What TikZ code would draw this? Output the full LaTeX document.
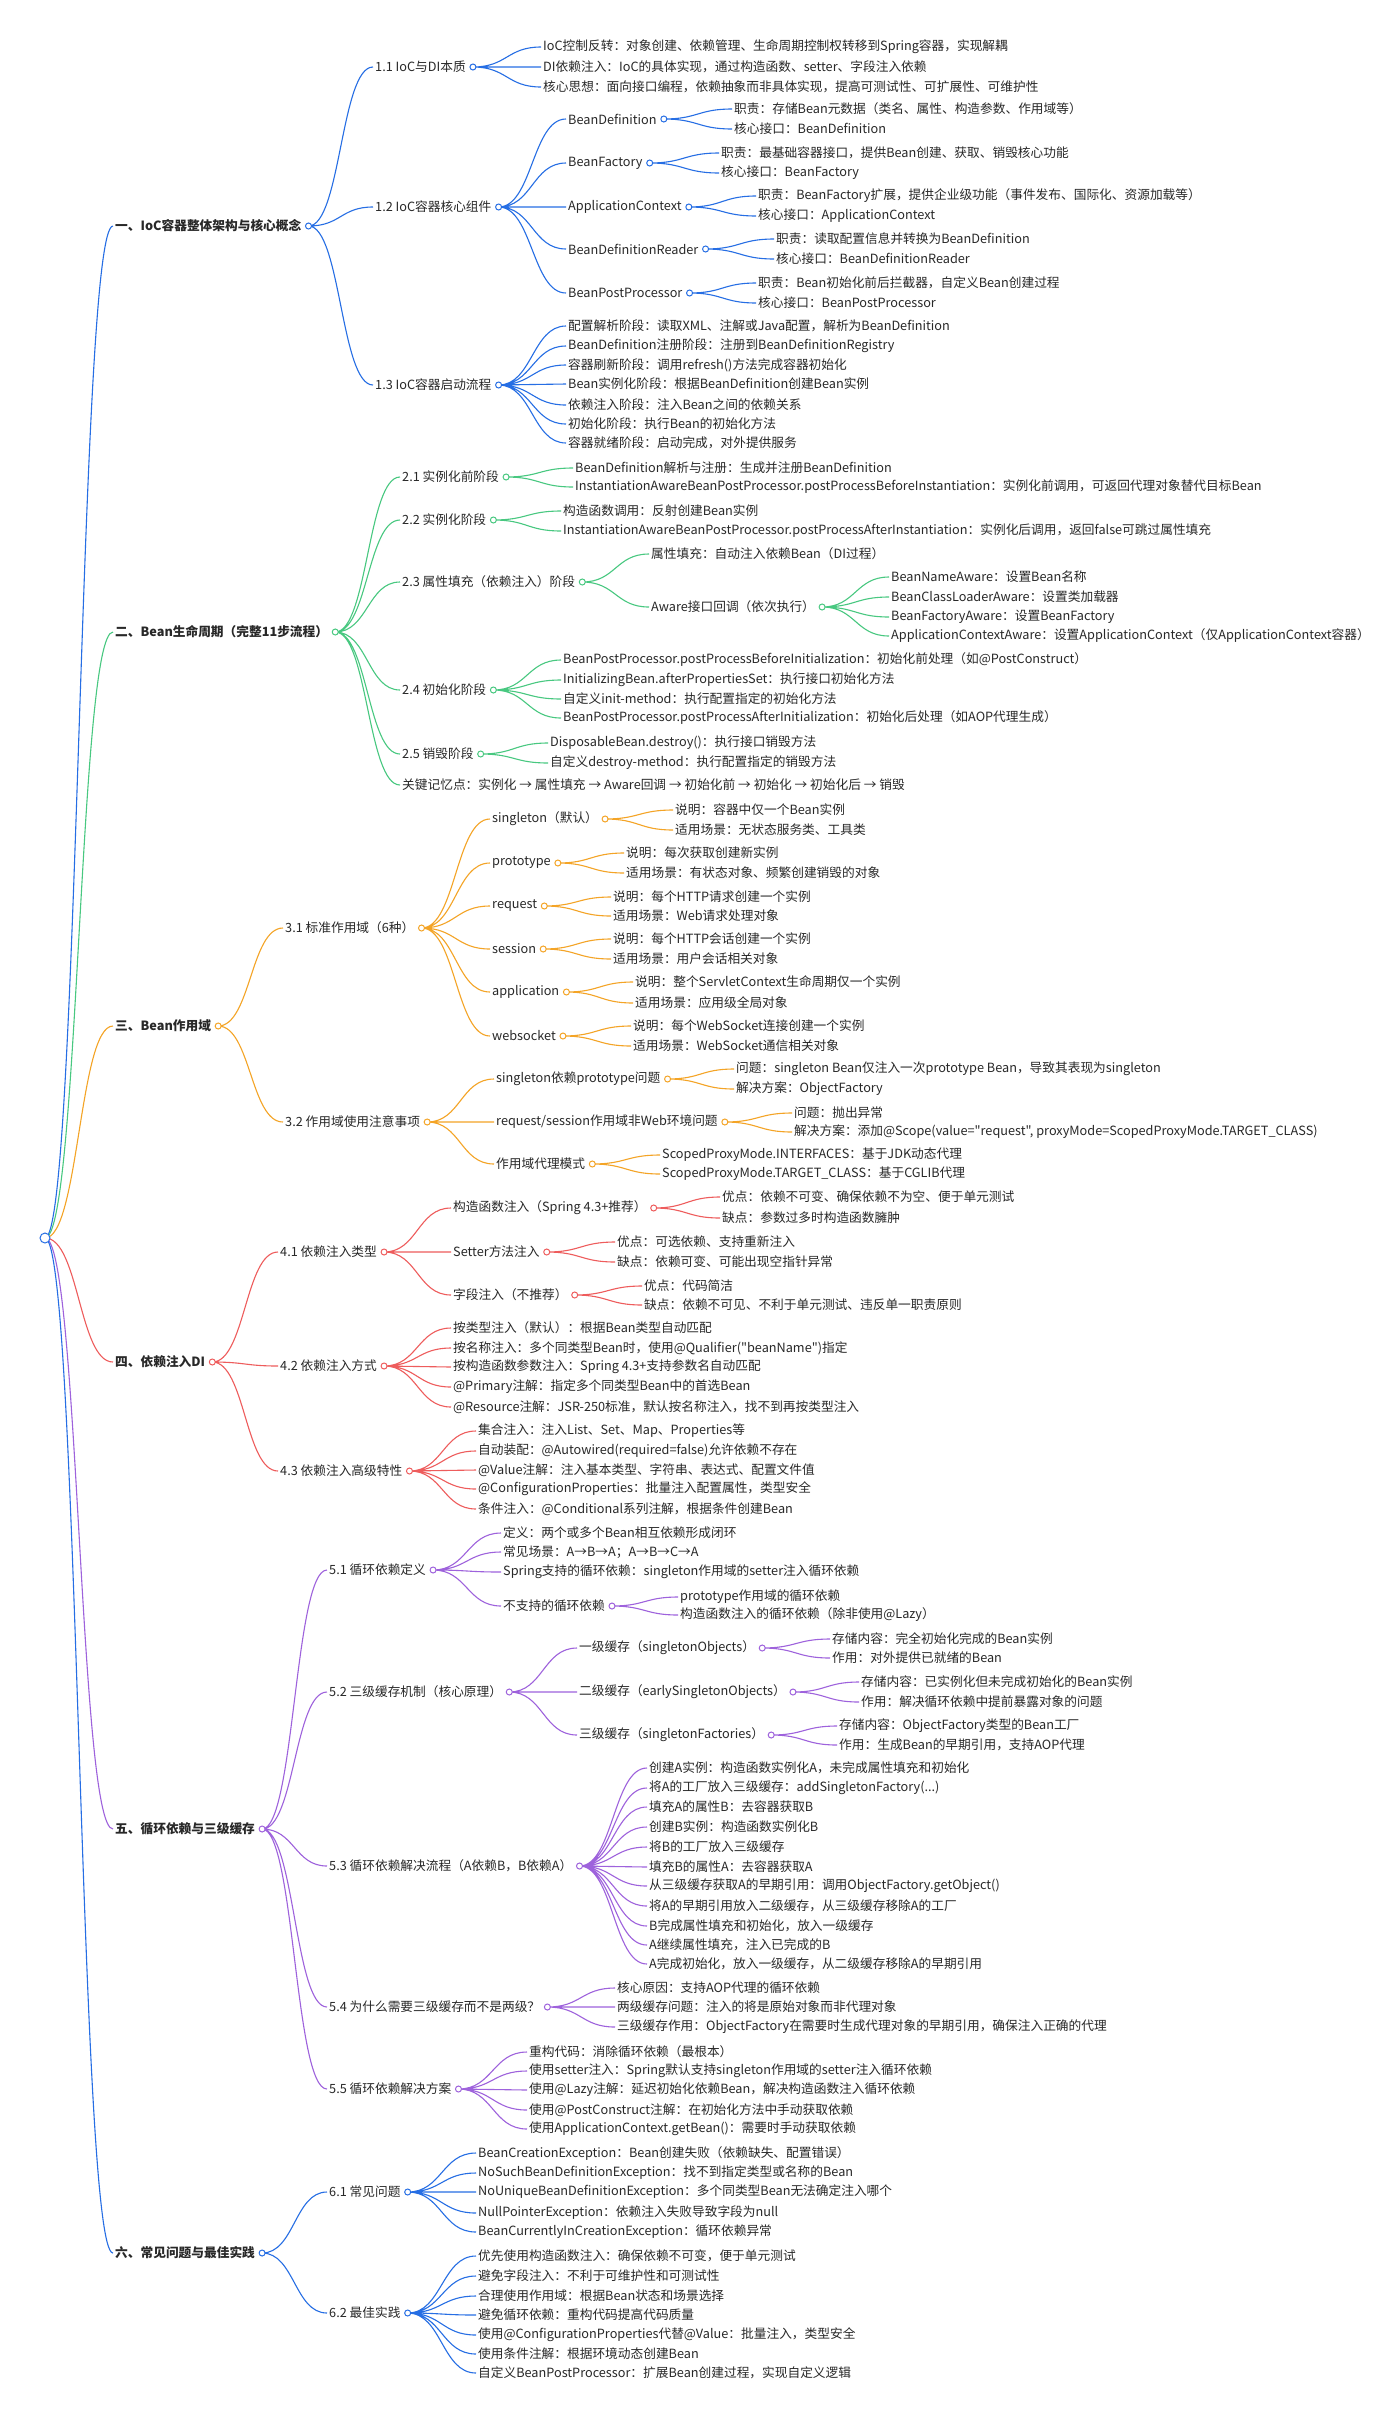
\documentclass[tikz,border=0pt]{standalone}
\usepackage{fontspec}
\newfontfamily\mmfont{Noto Sans CJK SC}
\usepackage{xcolor}
\usepackage{tikz}
\usetikzlibrary{calc}
\definecolor{mmblue}{RGB}{38, 110, 228}
\definecolor{mmgreen}{RGB}{72, 200, 128}
\definecolor{mmorange}{RGB}{244, 164, 38}
\definecolor{mmred}{RGB}{238, 92, 92}
\definecolor{mmpurple}{RGB}{158, 98, 220}
\definecolor{mmtext}{RGB}{40, 40, 40}

\begin{document}
\begin{tikzpicture}[x=1pt, y=-1pt,
  txt/.style={anchor=west, inner sep=2pt, text=mmtext, font=\mmfont\fontsize{12.7}{15}\selectfont},
  sec/.style={txt, font=\mmfont\fontsize{12.7}{15}\selectfont\bfseries},
  lk/.style={draw=#1, line width=1.1pt},
  knob/.style={draw=#1, fill=white, line width=1pt},
  mmcurve/.style={to path={let \p1=(\tikztostart), \p2=(\tikztotarget) in
      .. controls ({0.5*\x1+0.5*\x2},\y1) and ({0.5*\x1+0.5*\x2},\y2) .. (\tikztotarget)}}]

\fill[white] (0,0) rectangle (1400,2418);
\useasboundingbox (0,0) rectangle (1400,2418);

% Root
\coordinate (root) at (45,1238);

% ---------------- Section 1
\node[sec] (s1) at (113,226) {一、IoC容器整体架构与核心概念};
\coordinate (c1) at ([xshift=5pt]s1.east);

% 1.1
\node[txt] (s11) at (373,67) {1.1 IoC与DI本质};
\coordinate (c11) at ([xshift=5pt]s11.east);
\node[txt] (s11a) at (541,47) {IoC控制反转：对象创建、依赖管理、生命周期控制权转移到Spring容器，实现解耦};
\node[txt] (s11b) at (541,67) {DI依赖注入：IoC的具体实现，通过构造函数、setter、字段注入依赖};
\node[txt] (s11c) at (541,87) {核心思想：面向接口编程，依赖抽象而非具体实现，提高可测试性、可扩展性、可维护性};
\draw[lk=mmblue] (c11) to[mmcurve] (s11a.west) (c11) to[mmcurve] (s11b.west) (c11) to[mmcurve] (s11c.west);
\draw[knob=mmblue] (c11) circle[radius=3pt];

% 1.2
\node[txt] (s12) at (373,207) {1.2 IoC容器核心组件};
\coordinate (c12) at ([xshift=5pt]s12.east);
\node[txt] (s12a) at (566,119) {BeanDefinition};
\node[txt] (s12b) at (566,163) {BeanFactory};
\node[txt] (s12c) at (566,207) {ApplicationContext};
\node[txt] (s12d) at (566,249) {BeanDefinitionReader};
\node[txt] (s12e) at (566,293) {BeanPostProcessor};
\draw[lk=mmblue] (c12) to[mmcurve] (s12a.west) (c12) to[mmcurve] (s12b.west) (c12) to[mmcurve] (s12c.west)
  (c12) to[mmcurve] (s12d.west) (c12) to[mmcurve] (s12e.west);
\draw[knob=mmblue] (c12) circle[radius=3pt];

\coordinate (c12a) at ([xshift=5pt]s12a.east);
\node[txt] (s12a1) at (732,109) {职责：存储Bean元数据（类名、属性、构造参数、作用域等）};
\node[txt] (s12a2) at (732,129) {核心接口：BeanDefinition};
\draw[lk=mmblue] (c12a) to[mmcurve] (s12a1.west) (c12a) to[mmcurve] (s12a2.west);
\draw[knob=mmblue] (c12a) circle[radius=3pt];

\coordinate (c12b) at ([xshift=5pt]s12b.east);
\node[txt] (s12b1) at (719,153) {职责：最基础容器接口，提供Bean创建、获取、销毁核心功能};
\node[txt] (s12b2) at (719,173) {核心接口：BeanFactory};
\draw[lk=mmblue] (c12b) to[mmcurve] (s12b1.west) (c12b) to[mmcurve] (s12b2.west);
\draw[knob=mmblue] (c12b) circle[radius=3pt];

\coordinate (c12c) at ([xshift=5pt]s12c.east);
\node[txt] (s12c1) at (756,196) {职责：BeanFactory扩展，提供企业级功能（事件发布、国际化、资源加载等）};
\node[txt] (s12c2) at (756,216) {核心接口：ApplicationContext};
\draw[lk=mmblue] (c12c) to[mmcurve] (s12c1.west) (c12c) to[mmcurve] (s12c2.west);
\draw[knob=mmblue] (c12c) circle[radius=3pt];

\coordinate (c12d) at ([xshift=5pt]s12d.east);
\node[txt] (s12d1) at (774,239) {职责：读取配置信息并转换为BeanDefinition};
\node[txt] (s12d2) at (774,259) {核心接口：BeanDefinitionReader};
\draw[lk=mmblue] (c12d) to[mmcurve] (s12d1.west) (c12d) to[mmcurve] (s12d2.west);
\draw[knob=mmblue] (c12d) circle[radius=3pt];

\coordinate (c12e) at ([xshift=5pt]s12e.east);
\node[txt] (s12e1) at (756,283) {职责：Bean初始化前后拦截器，自定义Bean创建过程};
\node[txt] (s12e2) at (756,303) {核心接口：BeanPostProcessor};
\draw[lk=mmblue] (c12e) to[mmcurve] (s12e1.west) (c12e) to[mmcurve] (s12e2.west);
\draw[knob=mmblue] (c12e) circle[radius=3pt];

% 1.3
\node[txt] (s13) at (373,385) {1.3 IoC容器启动流程};
\coordinate (c13) at ([xshift=5pt]s13.east);
\node[txt] (s13a) at (566,326) {配置解析阶段：读取XML、注解或Java配置，解析为BeanDefinition};
\node[txt] (s13b) at (566,346) {BeanDefinition注册阶段：注册到BeanDefinitionRegistry};
\node[txt] (s13c) at (566,365) {容器刷新阶段：调用refresh()方法完成容器初始化};
\node[txt] (s13d) at (566,384) {Bean实例化阶段：根据BeanDefinition创建Bean实例};
\node[txt] (s13e) at (566,405) {依赖注入阶段：注入Bean之间的依赖关系};
\node[txt] (s13f) at (566,424) {初始化阶段：执行Bean的初始化方法};
\node[txt] (s13g) at (566,443) {容器就绪阶段：启动完成，对外提供服务};
\draw[lk=mmblue] (c13) to[mmcurve] (s13a.west) (c13) to[mmcurve] (s13b.west) (c13) to[mmcurve] (s13c.west)
  (c13) to[mmcurve] (s13d.west) (c13) to[mmcurve] (s13e.west) (c13) to[mmcurve] (s13f.west)
  (c13) to[mmcurve] (s13g.west);
\draw[knob=mmblue] (c13) circle[radius=3pt];

\draw[lk=mmblue] (c1) to[mmcurve] (s11.west) (c1) to[mmcurve] (s12.west) (c1) to[mmcurve] (s13.west);
\draw[knob=mmblue] (c1) circle[radius=3pt];

% ---------------- Section 2
\node[sec] (s2) at (113,632) {二、Bean生命周期（完整11步流程）};
\coordinate (c2) at ([xshift=5pt]s2.east);

% 2.1
\node[txt] (s21) at (400,477) {2.1 实例化前阶段};
\coordinate (c21) at ([xshift=5pt]s21.east);
\node[txt] (s21a) at (573,468) {BeanDefinition解析与注册：生成并注册BeanDefinition};
\node[txt] (s21b) at (573,487) {InstantiationAwareBeanPostProcessor.postProcessBeforeInstantiation：实例化前调用，可返回代理对象替代目标Bean};
\draw[lk=mmgreen] (c21) to[mmcurve] (s21a.west) (c21) to[mmcurve] (s21b.west);
\draw[knob=mmgreen] (c21) circle[radius=3pt];

% 2.2
\node[txt] (s22) at (400,520) {2.2 实例化阶段};
\coordinate (c22) at ([xshift=5pt]s22.east);
\node[txt] (s22a) at (561,511) {构造函数调用：反射创建Bean实例};
\node[txt] (s22b) at (561,531) {InstantiationAwareBeanPostProcessor.postProcessAfterInstantiation：实例化后调用，返回false可跳过属性填充};
\draw[lk=mmgreen] (c22) to[mmcurve] (s22a.west) (c22) to[mmcurve] (s22b.west);
\draw[knob=mmgreen] (c22) circle[radius=3pt];

% 2.3
\node[txt] (s23) at (400,582) {2.3 属性填充（依赖注入）阶段};
\coordinate (c23) at ([xshift=5pt]s23.east);
\node[txt] (s23a) at (649,554) {属性填充：自动注入依赖Bean（DI过程）};
\node[txt] (s23b) at (649,607) {Aware接口回调（依次执行）};
\draw[lk=mmgreen] (c23) to[mmcurve] (s23a.west) (c23) to[mmcurve] (s23b.west);
\draw[knob=mmgreen] (c23) circle[radius=3pt];

\coordinate (c23b) at ([xshift=5pt]s23b.east);
\node[txt] (s23b1) at (889,577) {BeanNameAware：设置Bean名称};
\node[txt] (s23b2) at (889,597) {BeanClassLoaderAware：设置类加载器};
\node[txt] (s23b3) at (889,617) {BeanFactoryAware：设置BeanFactory};
\node[txt] (s23b4) at (889,636) {ApplicationContextAware：设置ApplicationContext（仅ApplicationContext容器）};
\draw[lk=mmgreen] (c23b) to[mmcurve] (s23b1.west) (c23b) to[mmcurve] (s23b2.west)
  (c23b) to[mmcurve] (s23b3.west) (c23b) to[mmcurve] (s23b4.west);
\draw[knob=mmgreen] (c23b) circle[radius=3pt];

% 2.4
\node[txt] (s24) at (400,690) {2.4 初始化阶段};
\coordinate (c24) at ([xshift=5pt]s24.east);
\node[txt] (s24a) at (561,660) {BeanPostProcessor.postProcessBeforeInitialization：初始化前处理（如@PostConstruct）};
\node[txt] (s24b) at (561,680) {InitializingBean.afterPropertiesSet：执行接口初始化方法};
\node[txt] (s24c) at (561,699) {自定义init-method：执行配置指定的初始化方法};
\node[txt] (s24d) at (561,718) {BeanPostProcessor.postProcessAfterInitialization：初始化后处理（如AOP代理生成）};
\draw[lk=mmgreen] (c24) to[mmcurve] (s24a.west) (c24) to[mmcurve] (s24b.west)
  (c24) to[mmcurve] (s24c.west) (c24) to[mmcurve] (s24d.west);
\draw[knob=mmgreen] (c24) circle[radius=3pt];

% 2.5
\node[txt] (s25) at (400,754) {2.5 销毁阶段};
\coordinate (c25) at ([xshift=5pt]s25.east);
\node[txt] (s25a) at (548,743) {DisposableBean.destroy()：执行接口销毁方法};
\node[txt] (s25b) at (548,763) {自定义destroy-method：执行配置指定的销毁方法};
\draw[lk=mmgreen] (c25) to[mmcurve] (s25a.west) (c25) to[mmcurve] (s25b.west);
\draw[knob=mmgreen] (c25) circle[radius=3pt];

\node[txt] (s26) at (400,785) {关键记忆点：实例化 → 属性填充 → Aware回调 → 初始化前 → 初始化 → 初始化后 → 销毁};

\draw[lk=mmgreen] (c2) to[mmcurve] (s21.west) (c2) to[mmcurve] (s22.west) (c2) to[mmcurve] (s23.west)
  (c2) to[mmcurve] (s24.west) (c2) to[mmcurve] (s25.west) (c2) to[mmcurve] (s26.west);
\draw[knob=mmgreen] (c2) circle[radius=3pt];

% ---------------- Section 3
\node[sec] (s3) at (113,1026) {三、Bean作用域};
\coordinate (c3) at ([xshift=5pt]s3.east);

% 3.1
\node[txt] (s31) at (283,928) {3.1 标准作用域（6种）};
\coordinate (c31) at ([xshift=5pt]s31.east);
\node[txt] (s31a) at (490,819) {singleton（默认）};
\node[txt] (s31b) at (490,863) {prototype};
\node[txt] (s31c) at (490,906) {request};
\node[txt] (s31d) at (490,949) {session};
\node[txt] (s31e) at (490,992) {application};
\node[txt] (s31f) at (490,1036) {websocket};
\draw[lk=mmorange] (c31) to[mmcurve] (s31a.west) (c31) to[mmcurve] (s31b.west) (c31) to[mmcurve] (s31c.west)
  (c31) to[mmcurve] (s31d.west) (c31) to[mmcurve] (s31e.west) (c31) to[mmcurve] (s31f.west);
\draw[knob=mmorange] (c31) circle[radius=3pt];

\coordinate (c31a) at ([xshift=5pt]s31a.east);
\node[txt] (s31a1) at (673,810) {说明：容器中仅一个Bean实例};
\node[txt] (s31a2) at (673,830) {适用场景：无状态服务类、工具类};
\draw[lk=mmorange] (c31a) to[mmcurve] (s31a1.west) (c31a) to[mmcurve] (s31a2.west);
\draw[knob=mmorange] (c31a) circle[radius=3pt];

\coordinate (c31b) at ([xshift=5pt]s31b.east);
\node[txt] (s31b1) at (624,853) {说明：每次获取创建新实例};
\node[txt] (s31b2) at (624,873) {适用场景：有状态对象、频繁创建销毁的对象};
\draw[lk=mmorange] (c31b) to[mmcurve] (s31b1.west) (c31b) to[mmcurve] (s31b2.west);
\draw[knob=mmorange] (c31b) circle[radius=3pt];

\coordinate (c31c) at ([xshift=5pt]s31c.east);
\node[txt] (s31c1) at (611,897) {说明：每个HTTP请求创建一个实例};
\node[txt] (s31c2) at (611,916) {适用场景：Web请求处理对象};
\draw[lk=mmorange] (c31c) to[mmcurve] (s31c1.west) (c31c) to[mmcurve] (s31c2.west);
\draw[knob=mmorange] (c31c) circle[radius=3pt];

\coordinate (c31d) at ([xshift=5pt]s31d.east);
\node[txt] (s31d1) at (611,939) {说明：每个HTTP会话创建一个实例};
\node[txt] (s31d2) at (611,959) {适用场景：用户会话相关对象};
\draw[lk=mmorange] (c31d) to[mmcurve] (s31d1.west) (c31d) to[mmcurve] (s31d2.west);
\draw[knob=mmorange] (c31d) circle[radius=3pt];

\coordinate (c31e) at ([xshift=5pt]s31e.east);
\node[txt] (s31e1) at (633,982) {说明：整个ServletContext生命周期仅一个实例};
\node[txt] (s31e2) at (633,1003) {适用场景：应用级全局对象};
\draw[lk=mmorange] (c31e) to[mmcurve] (s31e1.west) (c31e) to[mmcurve] (s31e2.west);
\draw[knob=mmorange] (c31e) circle[radius=3pt];

\coordinate (c31f) at ([xshift=5pt]s31f.east);
\node[txt] (s31f1) at (631,1026) {说明：每个WebSocket连接创建一个实例};
\node[txt] (s31f2) at (631,1046) {适用场景：WebSocket通信相关对象};
\draw[lk=mmorange] (c31f) to[mmcurve] (s31f1.west) (c31f) to[mmcurve] (s31f2.west);
\draw[knob=mmorange] (c31f) circle[radius=3pt];

% 3.2
\node[txt] (s32) at (283,1122) {3.2 作用域使用注意事项};
\coordinate (c32) at ([xshift=5pt]s32.east);
\node[txt] (s32a) at (494,1079) {singleton依赖prototype问题};
\node[txt] (s32b) at (494,1122) {request/session作用域非Web环境问题};
\node[txt] (s32c) at (494,1164) {作用域代理模式};
\draw[lk=mmorange] (c32) to[mmcurve] (s32a.west) (c32) to[mmcurve] (s32b.west) (c32) to[mmcurve] (s32c.west);
\draw[knob=mmorange] (c32) circle[radius=3pt];

\coordinate (c32a) at ([xshift=5pt]s32a.east);
\node[txt] (s32a1) at (734,1069) {问题：singleton Bean仅注入一次prototype Bean，导致其表现为singleton};
\node[txt] (s32a2) at (734,1089) {解决方案：ObjectFactory};
\draw[lk=mmorange] (c32a) to[mmcurve] (s32a1.west) (c32a) to[mmcurve] (s32a2.west);
\draw[knob=mmorange] (c32a) circle[radius=3pt];

\coordinate (c32b) at ([xshift=5pt]s32b.east);
\node[txt] (s32b1) at (792,1113) {问题：抛出异常};
\node[txt] (s32b2) at (792,1132) {解决方案：添加@Scope(value="request", proxyMode=ScopedProxyMode.TARGET\_CLASS)};
\draw[lk=mmorange] (c32b) to[mmcurve] (s32b1.west) (c32b) to[mmcurve] (s32b2.west);
\draw[knob=mmorange] (c32b) circle[radius=3pt];

\coordinate (c32c) at ([xshift=5pt]s32c.east);
\node[txt] (s32c1) at (660,1155) {ScopedProxyMode.INTERFACES：基于JDK动态代理};
\node[txt] (s32c2) at (660,1174) {ScopedProxyMode.TARGET\_CLASS：基于CGLIB代理};
\draw[lk=mmorange] (c32c) to[mmcurve] (s32c1.west) (c32c) to[mmcurve] (s32c2.west);
\draw[knob=mmorange] (c32c) circle[radius=3pt];

\draw[lk=mmorange] (c3) to[mmcurve] (s31.west) (c3) to[mmcurve] (s32.west);
\draw[knob=mmorange] (c3) circle[radius=3pt];

% ---------------- Section 4
\node[sec] (s4) at (113,1362) {四、依赖注入DI};
\coordinate (c4) at ([xshift=5pt]s4.east);

% 4.1
\node[txt] (s41) at (278,1252) {4.1 依赖注入类型};
\coordinate (c41) at ([xshift=5pt]s41.east);
\node[txt] (s41a) at (451,1208) {构造函数注入（Spring 4.3+推荐）};
\node[txt] (s41b) at (451,1252) {Setter方法注入};
\node[txt] (s41c) at (451,1295) {字段注入（不推荐）};
\draw[lk=mmred] (c41) to[mmcurve] (s41a.west) (c41) to[mmcurve] (s41b.west) (c41) to[mmcurve] (s41c.west);
\draw[knob=mmred] (c41) circle[radius=3pt];

\coordinate (c41a) at ([xshift=5pt]s41a.east);
\node[txt] (s41a1) at (720,1197) {优点：依赖不可变、确保依赖不为空、便于单元测试};
\node[txt] (s41a2) at (720,1218) {缺点：参数过多时构造函数臃肿};
\draw[lk=mmred] (c41a) to[mmcurve] (s41a1.west) (c41a) to[mmcurve] (s41a2.west);
\draw[knob=mmred] (c41a) circle[radius=3pt];

\coordinate (c41b) at ([xshift=5pt]s41b.east);
\node[txt] (s41b1) at (615,1242) {优点：可选依赖、支持重新注入};
\node[txt] (s41b2) at (615,1262) {缺点：依赖可变、可能出现空指针异常};
\draw[lk=mmred] (c41b) to[mmcurve] (s41b1.west) (c41b) to[mmcurve] (s41b2.west);
\draw[knob=mmred] (c41b) circle[radius=3pt];

\coordinate (c41c) at ([xshift=5pt]s41c.east);
\node[txt] (s41c1) at (642,1286) {优点：代码简洁};
\node[txt] (s41c2) at (642,1305) {缺点：依赖不可见、不利于单元测试、违反单一职责原则};
\draw[lk=mmred] (c41c) to[mmcurve] (s41c1.west) (c41c) to[mmcurve] (s41c2.west);
\draw[knob=mmred] (c41c) circle[radius=3pt];

% 4.2
\node[txt] (s42) at (278,1366) {4.2 依赖注入方式};
\coordinate (c42) at ([xshift=5pt]s42.east);
\node[txt] (s42a) at (451,1328) {按类型注入（默认）：根据Bean类型自动匹配};
\node[txt] (s42b) at (451,1348) {按名称注入：多个同类型Bean时，使用@Qualifier("beanName")指定};
\node[txt] (s42c) at (451,1367) {按构造函数参数注入：Spring 4.3+支持参数名自动匹配};
\node[txt] (s42d) at (451,1387) {@Primary注解：指定多个同类型Bean中的首选Bean};
\node[txt] (s42e) at (451,1407) {@Resource注解：JSR-250标准，默认按名称注入，找不到再按类型注入};
\draw[lk=mmred] (c42) to[mmcurve] (s42a.west) (c42) to[mmcurve] (s42b.west) (c42) to[mmcurve] (s42c.west)
  (c42) to[mmcurve] (s42d.west) (c42) to[mmcurve] (s42e.west);
\draw[knob=mmred] (c42) circle[radius=3pt];

% 4.3
\node[txt] (s43) at (278,1471) {4.3 依赖注入高级特性};
\coordinate (c43) at ([xshift=5pt]s43.east);
\node[txt] (s43a) at (476,1431) {集合注入：注入List、Set、Map、Properties等};
\node[txt] (s43b) at (476,1451) {自动装配：@Autowired(required=false)允许依赖不存在};
\node[txt] (s43c) at (476,1470) {@Value注解：注入基本类型、字符串、表达式、配置文件值};
\node[txt] (s43d) at (476,1489) {@ConfigurationProperties：批量注入配置属性，类型安全};
\node[txt] (s43e) at (476,1509) {条件注入：@Conditional系列注解，根据条件创建Bean};
\draw[lk=mmred] (c43) to[mmcurve] (s43a.west) (c43) to[mmcurve] (s43b.west) (c43) to[mmcurve] (s43c.west)
  (c43) to[mmcurve] (s43d.west) (c43) to[mmcurve] (s43e.west);
\draw[knob=mmred] (c43) circle[radius=3pt];

\draw[lk=mmred] (c4) to[mmcurve] (s41.west) (c4) to[mmcurve] (s42.west) (c4) to[mmcurve] (s43.west);
\draw[knob=mmred] (c4) circle[radius=3pt];

% ---------------- Section 5
\node[sec] (s5) at (113,1829) {五、循环依赖与三级缓存};
\coordinate (c5) at ([xshift=5pt]s5.east);

% 5.1
\node[txt] (s51) at (327,1570) {5.1 循环依赖定义};
\coordinate (c51) at ([xshift=5pt]s51.east);
\node[txt] (s51a) at (501,1533) {定义：两个或多个Bean相互依赖形成闭环};
\node[txt] (s51b) at (501,1552) {常见场景：A→B→A；A→B→C→A};
\node[txt] (s51c) at (501,1572) {Spring支持的循环依赖：singleton作用域的setter注入循环依赖};
\node[txt] (s51d) at (501,1606) {不支持的循环依赖};
\draw[lk=mmpurple] (c51) to[mmcurve] (s51a.west) (c51) to[mmcurve] (s51b.west)
  (c51) to[mmcurve] (s51c.west) (c51) to[mmcurve] (s51d.west);
\draw[knob=mmpurple] (c51) circle[radius=3pt];

\coordinate (c51d) at ([xshift=5pt]s51d.east);
\node[txt] (s51d1) at (678,1597) {prototype作用域的循环依赖};
\node[txt] (s51d2) at (678,1615) {构造函数注入的循环依赖（除非使用@Lazy）};
\draw[lk=mmpurple] (c51d) to[mmcurve] (s51d1.west) (c51d) to[mmcurve] (s51d2.west);
\draw[knob=mmpurple] (c51d) circle[radius=3pt];

% 5.2
\node[txt] (s52) at (327,1692) {5.2 三级缓存机制（核心原理）};
\coordinate (c52) at ([xshift=5pt]s52.east);
\node[txt] (s52a) at (577,1648) {一级缓存（singletonObjects）};
\node[txt] (s52b) at (577,1692) {二级缓存（earlySingletonObjects）};
\node[txt] (s52c) at (577,1735) {三级缓存（singletonFactories）};
\draw[lk=mmpurple] (c52) to[mmcurve] (s52a.west) (c52) to[mmcurve] (s52b.west) (c52) to[mmcurve] (s52c.west);
\draw[knob=mmpurple] (c52) circle[radius=3pt];

\coordinate (c52a) at ([xshift=5pt]s52a.east);
\node[txt] (s52a1) at (830,1639) {存储内容：完全初始化完成的Bean实例};
\node[txt] (s52a2) at (830,1658) {作用：对外提供已就绪的Bean};
\draw[lk=mmpurple] (c52a) to[mmcurve] (s52a1.west) (c52a) to[mmcurve] (s52a2.west);
\draw[knob=mmpurple] (c52a) circle[radius=3pt];

\coordinate (c52b) at ([xshift=5pt]s52b.east);
\node[txt] (s52b1) at (859,1682) {存储内容：已实例化但未完成初始化的Bean实例};
\node[txt] (s52b2) at (859,1702) {作用：解决循环依赖中提前暴露对象的问题};
\draw[lk=mmpurple] (c52b) to[mmcurve] (s52b1.west) (c52b) to[mmcurve] (s52b2.west);
\draw[knob=mmpurple] (c52b) circle[radius=3pt];

\coordinate (c52c) at ([xshift=5pt]s52c.east);
\node[txt] (s52c1) at (837,1726) {存储内容：ObjectFactory类型的Bean工厂};
\node[txt] (s52c2) at (837,1745) {作用：生成Bean的早期引用，支持AOP代理};
\draw[lk=mmpurple] (c52c) to[mmcurve] (s52c1.west) (c52c) to[mmcurve] (s52c2.west);
\draw[knob=mmpurple] (c52c) circle[radius=3pt];

% 5.3
\node[txt] (s53) at (327,1866) {5.3 循环依赖解决流程（A依赖B，B依赖A）};
\coordinate (c53) at ([xshift=5pt]s53.east);
\node[txt] (s53a) at (647,1768) {创建A实例：构造函数实例化A，未完成属性填充和初始化};
\node[txt] (s53b) at (647,1788) {将A的工厂放入三级缓存：addSingletonFactory(...)};
\node[txt] (s53c) at (647,1807) {填充A的属性B：去容器获取B};
\node[txt] (s53d) at (647,1827) {创建B实例：构造函数实例化B};
\node[txt] (s53e) at (647,1847) {将B的工厂放入三级缓存};
\node[txt] (s53f) at (647,1867) {填充B的属性A：去容器获取A};
\node[txt] (s53g) at (647,1886) {从三级缓存获取A的早期引用：调用ObjectFactory.getObject()};
\node[txt] (s53h) at (647,1906) {将A的早期引用放入二级缓存，从三级缓存移除A的工厂};
\node[txt] (s53i) at (647,1926) {B完成属性填充和初始化，放入一级缓存};
\node[txt] (s53j) at (647,1945) {A继续属性填充，注入已完成的B};
\node[txt] (s53k) at (647,1964) {A完成初始化，放入一级缓存，从二级缓存移除A的早期引用};
\draw[lk=mmpurple] (c53) to[mmcurve] (s53a.west) (c53) to[mmcurve] (s53b.west) (c53) to[mmcurve] (s53c.west)
  (c53) to[mmcurve] (s53d.west) (c53) to[mmcurve] (s53e.west) (c53) to[mmcurve] (s53f.west)
  (c53) to[mmcurve] (s53g.west) (c53) to[mmcurve] (s53h.west) (c53) to[mmcurve] (s53i.west)
  (c53) to[mmcurve] (s53j.west) (c53) to[mmcurve] (s53k.west);
\draw[knob=mmpurple] (c53) circle[radius=3pt];

% 5.4
\node[txt] (s54) at (327,2007) {5.4 为什么需要三级缓存而不是两级？};
\coordinate (c54) at ([xshift=5pt]s54.east);
\node[txt] (s54a) at (615,1988) {核心原因：支持AOP代理的循环依赖};
\node[txt] (s54b) at (615,2007) {两级缓存问题：注入的将是原始对象而非代理对象};
\node[txt] (s54c) at (615,2027) {三级缓存作用：ObjectFactory在需要时生成代理对象的早期引用，确保注入正确的代理};
\draw[lk=mmpurple] (c54) to[mmcurve] (s54a.west) (c54) to[mmcurve] (s54b.west) (c54) to[mmcurve] (s54c.west);
\draw[knob=mmpurple] (c54) circle[radius=3pt];

% 5.5
\node[txt] (s55) at (327,2089) {5.5 循环依赖解决方案};
\coordinate (c55) at ([xshift=5pt]s55.east);
\node[txt] (s55a) at (527,2052) {重构代码：消除循环依赖（最根本）};
\node[txt] (s55b) at (527,2071) {使用setter注入：Spring默认支持singleton作用域的setter注入循环依赖};
\node[txt] (s55c) at (527,2090) {使用@Lazy注解：延迟初始化依赖Bean，解决构造函数注入循环依赖};
\node[txt] (s55d) at (527,2110) {使用@PostConstruct注解：在初始化方法中手动获取依赖};
\node[txt] (s55e) at (527,2129) {使用ApplicationContext.getBean()：需要时手动获取依赖};
\draw[lk=mmpurple] (c55) to[mmcurve] (s55a.west) (c55) to[mmcurve] (s55b.west) (c55) to[mmcurve] (s55c.west)
  (c55) to[mmcurve] (s55d.west) (c55) to[mmcurve] (s55e.west);
\draw[knob=mmpurple] (c55) circle[radius=3pt];

\draw[lk=mmpurple] (c5) to[mmcurve] (s51.west) (c5) to[mmcurve] (s52.west) (c5) to[mmcurve] (s53.west)
  (c5) to[mmcurve] (s54.west) (c5) to[mmcurve] (s55.west);
\draw[knob=mmpurple] (c5) circle[radius=3pt];

% ---------------- Section 6
\node[sec] (s6) at (113,2253) {六、常见问题与最佳实践};
\coordinate (c6) at ([xshift=5pt]s6.east);

% 6.1
\node[txt] (s61) at (327,2192) {6.1 常见问题};
\coordinate (c61) at ([xshift=5pt]s61.east);
\node[txt] (s61a) at (476,2153) {BeanCreationException：Bean创建失败（依赖缺失、配置错误）};
\node[txt] (s61b) at (476,2173) {NoSuchBeanDefinitionException：找不到指定类型或名称的Bean};
\node[txt] (s61c) at (476,2192) {NoUniqueBeanDefinitionException：多个同类型Bean无法确定注入哪个};
\node[txt] (s61d) at (476,2213) {NullPointerException：依赖注入失败导致字段为null};
\node[txt] (s61e) at (476,2232) {BeanCurrentlyInCreationException：循环依赖异常};
\draw[lk=mmblue] (c61) to[mmcurve] (s61a.west) (c61) to[mmcurve] (s61b.west) (c61) to[mmcurve] (s61c.west)
  (c61) to[mmcurve] (s61d.west) (c61) to[mmcurve] (s61e.west);
\draw[knob=mmblue] (c61) circle[radius=3pt];

% 6.2
\node[txt] (s62) at (327,2313) {6.2 最佳实践};
\coordinate (c62) at ([xshift=5pt]s62.east);
\node[txt] (s62a) at (476,2256) {优先使用构造函数注入：确保依赖不可变，便于单元测试};
\node[txt] (s62b) at (476,2276) {避免字段注入：不利于可维护性和可测试性};
\node[txt] (s62c) at (476,2296) {合理使用作用域：根据Bean状态和场景选择};
\node[txt] (s62d) at (476,2315) {避免循环依赖：重构代码提高代码质量};
\node[txt] (s62e) at (476,2335) {使用@ConfigurationProperties代替@Value：批量注入，类型安全};
\node[txt] (s62f) at (476,2354) {使用条件注解：根据环境动态创建Bean};
\node[txt] (s62g) at (476,2373) {自定义BeanPostProcessor：扩展Bean创建过程，实现自定义逻辑};
\draw[lk=mmblue] (c62) to[mmcurve] (s62a.west) (c62) to[mmcurve] (s62b.west) (c62) to[mmcurve] (s62c.west)
  (c62) to[mmcurve] (s62d.west) (c62) to[mmcurve] (s62e.west) (c62) to[mmcurve] (s62f.west)
  (c62) to[mmcurve] (s62g.west);
\draw[knob=mmblue] (c62) circle[radius=3pt];

\draw[lk=mmblue] (c6) to[mmcurve] (s61.west) (c6) to[mmcurve] (s62.west);
\draw[knob=mmblue] (c6) circle[radius=3pt];

% Root links
\draw[lk=mmblue] (root) to[mmcurve] (s1.west);
\draw[lk=mmgreen] (root) to[mmcurve] (s2.west);
\draw[lk=mmorange] (root) to[mmcurve] (s3.west);
\draw[lk=mmred] (root) to[mmcurve] (s4.west);
\draw[lk=mmpurple] (root) to[mmcurve] (s5.west);
\draw[lk=mmblue] (root) to[mmcurve] (s6.west);
\draw[knob=mmblue] (root) circle[radius=5pt];

\end{tikzpicture}
\end{document}
